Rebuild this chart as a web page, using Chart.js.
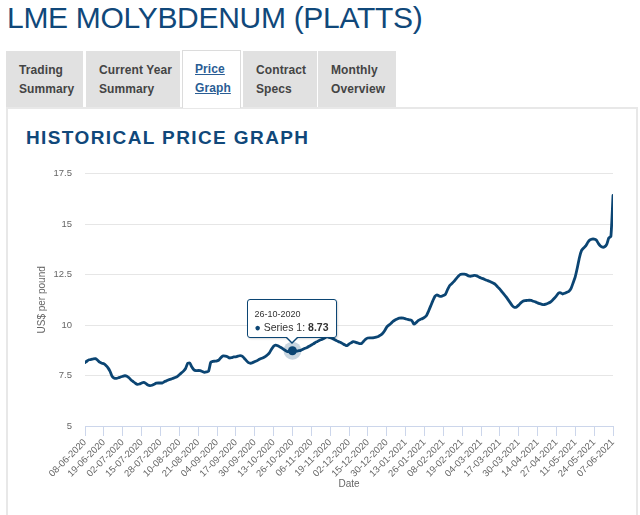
<!DOCTYPE html>
<html>
<head>
<meta charset="utf-8">
<script src="https://cdn.jsdelivr.net/npm/chart.js@4.4.0/dist/chart.umd.min.js"></script>
<style>
  html, body { margin: 0; padding: 0; background: #fff; width: 640px; height: 515px; overflow: hidden;
    font-family: "Liberation Sans", Arial, sans-serif; }
  #title { position: absolute; left: 7px; top: 3px; font-size: 30px; line-height: 30px; letter-spacing: -0.3px;
    color: #10487a; white-space: nowrap; }
  .tab { position: absolute; top: 51px; height: 56px; background: #e1e1e1; box-sizing: border-box;
    padding: 10px 0 0 13px; font-size: 12px; line-height: 18.5px; font-weight: bold; color: #444;
    letter-spacing: 0.1px; white-space: nowrap; }
  .tab.active { background: #fff; border: 1px solid #dcdcdc; border-bottom: none; height: 58px; z-index: 2;
    padding: 9px 0 0 12px; }
  .tab.active span { color: #2a5d94; text-decoration: underline; }
  #panel { position: absolute; left: 6px; top: 107px; width: 632px; height: 420px; border: 2px solid #e8e8e8;
    box-sizing: border-box; }
  #heading { position: absolute; left: 26px; top: 128px; font-size: 19px; line-height: 19px; font-weight: bold;
    letter-spacing: 1.4px; color: #10487a; white-space: nowrap; }
  #chartBox { position: absolute; left: 0; top: 155px; width: 640px; height: 360px; }
  #tip { position: absolute; display: none; background: rgba(255,255,255,0.96); border: 1px solid #0b4573;
    border-radius: 3px; padding: 8px 8px 3px 6px; font-size: 10.5px; color: #333; white-space: nowrap;
    box-shadow: 1px 1px 2px rgba(0,0,0,0.15); z-index: 5; }
  #tip .t { font-size: 9px; line-height: 12px; }
  #tip .b { line-height: 14px; }
  #tip:before { content: ''; position: absolute; left: 50%; bottom: -7px; margin-left: -7px;
    border-left: 7px solid transparent; border-right: 7px solid transparent; border-top: 7px solid #0b4573; }
  #tip:after { content: ''; position: absolute; left: 50%; bottom: -5.5px; margin-left: -6px;
    border-left: 6px solid transparent; border-right: 6px solid transparent; border-top: 6px solid #fff; }
</style>
</head>
<body>
<div id="title">LME MOLYBDENUM (PLATTS)</div>
<div class="tab" style="left:6px;width:77px">Trading<br>Summary</div>
<div class="tab" style="left:86px;width:94px">Current Year<br>Summary</div>
<div class="tab active" style="left:182px;width:59px;top:50px"><span>Price</span><br><span>Graph</span></div>
<div class="tab" style="left:243px;width:74px">Contract<br>Specs</div>
<div class="tab" style="left:318px;width:78px">Monthly<br>Overview</div>
<div id="panel"></div>
<div id="heading">HISTORICAL PRICE GRAPH</div>
<div id="chartBox"><canvas id="chart"></canvas></div>
<div id="tip"></div>

<script>
// tick labels along the x axis, one every 9 trading days
const tickLabels = [
  '08-06-2020', '19-06-2020', '02-07-2020', '15-07-2020', '28-07-2020', '10-08-2020',
  '21-08-2020', '04-09-2020', '17-09-2020', '30-09-2020', '13-10-2020', '26-10-2020',
  '06-11-2020', '19-11-2020', '02-12-2020', '15-12-2020', '30-12-2020', '13-01-2021',
  '26-01-2021', '08-02-2021', '19-02-2021', '04-03-2021', '17-03-2021', '30-03-2021',
  '14-04-2021', '27-04-2021', '11-05-2021', '24-05-2021', '07-06-2021'
];
const labelEvery = 9;

// daily price, US$ per pound
const prices = [
  8.14, 8.22, 8.28, 8.30, 8.33, 8.34, 8.26, 8.16, 8.11, 8.08,
  8.00, 7.88, 7.70, 7.45, 7.37, 7.36, 7.39, 7.43, 7.46, 7.49,
  7.47, 7.39, 7.28, 7.20, 7.12, 7.06, 7.08, 7.13, 7.16, 7.11,
  7.03, 7.00, 7.02, 7.07, 7.12, 7.13, 7.13, 7.14, 7.20, 7.24,
  7.29, 7.32, 7.36, 7.40, 7.45, 7.54, 7.63, 7.72, 7.85, 8.10,
  8.12, 7.92, 7.78, 7.74, 7.75, 7.74, 7.70, 7.66, 7.68, 7.72,
  8.15, 8.20, 8.21, 8.23, 8.28, 8.40, 8.47, 8.46, 8.43, 8.37,
  8.39, 8.42, 8.43, 8.46, 8.49, 8.46, 8.36, 8.24, 8.14, 8.11,
  8.14, 8.19, 8.23, 8.29, 8.34, 8.38, 8.44, 8.52, 8.62, 8.80,
  8.95, 9.01, 8.98, 8.92, 8.86, 8.78, 8.72, 8.68, 8.70, 8.73,
  8.72, 8.71, 8.73, 8.75, 8.80, 8.85, 8.89, 8.95, 9.01, 9.07,
  9.14, 9.19, 9.25, 9.29, 9.34, 9.40, 9.41, 9.38, 9.34, 9.29,
  9.23, 9.18, 9.14, 9.08, 9.02, 8.98, 9.06, 9.12, 9.18, 9.16,
  9.12, 9.08, 9.09, 9.20, 9.30, 9.36, 9.37, 9.37, 9.38, 9.40,
  9.43, 9.50, 9.58, 9.72, 9.90, 10.00, 10.08, 10.18, 10.25, 10.30,
  10.34, 10.35, 10.34, 10.31, 10.28, 10.26, 10.22, 10.05, 10.12, 10.22,
  10.28, 10.32, 10.38, 10.48, 10.70, 10.95, 11.20, 11.42, 11.50, 11.44,
  11.42, 11.46, 11.52, 11.75, 11.95, 12.05, 12.15, 12.28, 12.40, 12.50,
  12.52, 12.52, 12.50, 12.44, 12.42, 12.44, 12.46, 12.44, 12.38, 12.33,
  12.30, 12.25, 12.21, 12.17, 12.12, 12.07, 12.00, 11.88, 11.78, 11.65,
  11.52, 11.40, 11.25, 11.10, 10.95, 10.88, 10.90, 10.99, 11.10, 11.18,
  11.21, 11.22, 11.23, 11.22, 11.18, 11.15, 11.10, 11.06, 11.03, 11.01,
  11.04, 11.08, 11.13, 11.22, 11.33, 11.45, 11.58, 11.60, 11.54, 11.58,
  11.63, 11.68, 11.82, 12.10, 12.40, 12.85, 13.35, 13.70, 13.82, 13.92,
  14.10, 14.22, 14.26, 14.26, 14.22, 14.05, 13.92, 13.86, 13.88, 14.00,
  14.32, 14.40, 16.42
];

const seriesName = 'Series 1';
const hoverIndex = 99;   // 26-10-2020
const lineColor = '#0b4573';

Chart.defaults.font.family = '"Liberation Sans", Arial, sans-serif';

// halo + marker on the hovered point
const haloPlugin = {
  id: 'halo',
  afterDatasetsDraw(chart) {
    const ctx = chart.ctx;
    chart.getActiveElements().forEach(a => {
      const el = a.element;
      ctx.save();
      ctx.beginPath();
      ctx.arc(el.x, el.y, 9, 0, Math.PI * 2);
      ctx.fillStyle = 'rgba(11,69,115,0.22)';
      ctx.fill();
      ctx.beginPath();
      ctx.arc(el.x, el.y, 4.5, 0, Math.PI * 2);
      ctx.fillStyle = lineColor;
      ctx.fill();
      ctx.restore();
    });
  }
};

function externalTip(context) {
  const tip = document.getElementById('tip');
  const model = context.tooltip;
  if (model.opacity === 0 || !model.dataPoints || !model.dataPoints.length) {
    tip.style.display = 'none';
    return;
  }
  const dp = model.dataPoints[0];
  tip.innerHTML = '<div class="t">' + model.title[0] + '</div>' +
    '<div class="b"><span style="color:' + lineColor + '">\u25CF</span> ' + dp.dataset.label +
    ': <b>' + dp.parsed.y.toFixed(2) + '</b></div>';
  tip.style.display = 'block';
  const box = context.chart.canvas.parentNode;
  tip.style.left = (box.offsetLeft + model.caretX - tip.offsetWidth / 2) + 'px';
  tip.style.top = (box.offsetTop + model.caretY - 13 - tip.offsetHeight) + 'px';
}

const chart = new Chart(document.getElementById('chart'), {
  type: 'line',
  data: {
    datasets: [{
      label: seriesName,
      data: prices.map((p, i) => ({ x: i, y: p })),
      borderColor: lineColor,
      borderWidth: 2.8,
      pointRadius: 0,
      pointHoverRadius: 0,
      tension: 0.2,
      borderJoinStyle: 'round',
      borderCapStyle: 'round'
    }]
  },
  options: {
    animation: false,
    responsive: true,
    maintainAspectRatio: false,
    events: [],
    layout: { padding: { left: 32, right: 27, top: 16, bottom: 21 } },
    plugins: {
      legend: { display: false },
      tooltip: {
        enabled: false,
        external: externalTip,
        callbacks: {
          title: items => {
            const i = items[0].dataIndex;
            return i % labelEvery === 0 ? tickLabels[i / labelEvery] : '';
          }
        }
      }
    },
    scales: {
      x: {
        type: 'linear',
        min: 0,
        max: prices.length - 1,
        afterFit: s => { s.height = 68; },
        grid: { drawOnChartArea: false, color: '#ccd6eb', tickLength: 10 },
        border: { color: '#ccd6eb' },
        ticks: {
          stepSize: labelEvery,
          maxTicksLimit: 40,
          autoSkip: false,
          maxRotation: 45,
          minRotation: 45,
          padding: 1,
          color: '#666',
          font: { size: 9.5 },
          callback: v => tickLabels[v / labelEvery]
        },
        title: { display: true, text: 'Date', color: '#666', font: { size: 10 } }
      },
      y: {
        min: 5,
        max: 17.5,
        afterFit: s => { s.width = 53; },
        grid: { color: '#e6e6e6', drawTicks: false },
        border: { display: false },
        ticks: {
          stepSize: 2.5,
          padding: 13,
          color: '#666',
          font: { size: 9.5 },
          callback: v => String(v)
        },
        title: { display: true, text: 'US$ per pound', color: '#666', font: { size: 10 } }
      }
    }
  },
  plugins: [haloPlugin]
});

chart.setActiveElements([{ datasetIndex: 0, index: hoverIndex }]);
chart.tooltip.setActiveElements([{ datasetIndex: 0, index: hoverIndex }], { x: 0, y: 0 });
chart.update();
</script>
</body>
</html>
